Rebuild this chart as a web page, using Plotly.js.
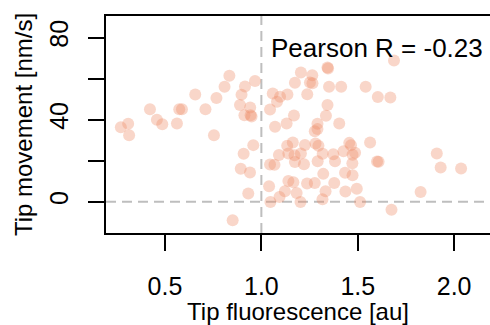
<!DOCTYPE html>
<html>
<head>
<meta charset="utf-8">
<script src="https://cdn.plot.ly/plotly-3.0.1.min.js"></script>
<style>html,body{margin:0;padding:0;overflow:hidden;background:#fff;}</style>
</head>
<body>
<div id="chart" style="width:490px;height:325px;"></div>
<script>
var tipFluorescence = [
  0.271,0.309,0.314,0.422,0.458,0.486,0.562,0.574,0.588,0.657,
  0.710,0.754,0.767,0.809,0.834,0.897,0.915,0.967,0.889,0.942,
  0.912,0.944,0.949,0.958,0.908,0.893,0.941,0.932,0.851,
  1.059,1.097,1.081,1.135,1.174,1.205,1.264,1.252,1.265,1.343,1.346,
  1.351,1.414,1.541,1.604,1.669,1.688,1.238,1.045,1.343,1.169,
  1.335,1.131,1.071,1.404,1.291,1.291,1.277,1.226,1.281,1.163,
  1.134,1.140,1.091,1.172,1.205,1.221,1.174,1.296,1.318,1.373,
  1.382,1.426,1.456,1.465,1.473,1.472,1.564,1.600,1.608,1.486,
  1.292,1.910,1.930,2.036,1.826,1.675,1.045,1.068,1.040,1.047,
  1.094,1.122,1.140,1.166,1.183,1.203,1.237,1.277,1.321,1.317,
  1.333,1.378,1.434,1.436,1.473,1.495,1.512
];
var tipMovement = [
  36.3,38.0,32.4,45.1,40.0,37.8,38.1,45.1,45.1,52.3,
  45.1,32.4,50.6,56.0,61.4,52.2,56.2,58.8,47.2,45.9,
  42.1,42.1,41.5,27.6,23.4,16.1,14.3,4.0,-9.0,
  52.7,51.2,48.7,52.3,58.0,63.0,61.6,58.1,57.7,65.4,64.9,
  56.0,56.0,56.0,51.0,50.8,68.8,52.4,45.0,47.1,42.0,
  41.9,38.1,36.5,38.1,38.0,35.4,34.4,27.7,28.4,28.9,
  27.3,23.5,22.8,22.7,23.5,18.3,19.4,27.3,23.4,23.2,
  19.8,24.6,28.7,27.6,22.9,18.8,28.9,19.6,19.5,23.9,
  19.8,23.5,16.7,16.2,4.8,-3.9,18.2,18.1,7.6,-0.1,
  2.3,5.1,10.1,9.5,4.3,-0.1,8.9,9.2,13.6,1.2,
  5.1,9.2,14.1,5.0,12.9,6.4,-0.1
];
var xTickVals = [0.5, 1.0, 1.5, 2.0];
var xTickText = ['0.5', '1.0', '1.5', '2.0'];
var yTickVals = [0, 20, 40, 60, 80];
var yTickText = ['0', '', '40', '', '80'];
var annotationText = 'Pearson R = -0.23';
var xTitle = 'Tip fluorescence [au]';
var yTitle = 'Tip movement [nm/s]';

var FONT = 'Liberation Sans, Arial, Helvetica, sans-serif';

var trace = {
  x: tipFluorescence,
  y: tipMovement,
  type: 'scatter',
  mode: 'markers',
  marker: {size: 12, color: 'rgba(238,140,105,0.36)', line: {width: 0}},
  hoverinfo: 'skip'
};

var layout = {
  width: 490, height: 325,
  margin: {l: 106, r: 0, t: 16, b: 92, pad: 0},
  paper_bgcolor: '#fff', plot_bgcolor: '#fff',
  showlegend: false,
  font: {family: FONT, color: '#000', size: 24},
  xaxis: {
    range: [0.194, 2.186],
    showgrid: false, zeroline: false,
    showline: true, linewidth: 2, linecolor: '#000', mirror: true,
    ticks: 'outside', ticklen: 16, tickwidth: 2, tickcolor: '#000',
    tickvals: xTickVals, ticktext: xTickText, ticklabelstandoff: 14,
    tickfont: {size: 25, family: FONT, color: '#000'},
    title: {text: xTitle, font: {size: 24, family: FONT, color: '#000'}, standoff: 1}
  },
  yaxis: {
    range: [-15.2, 90.5],
    showgrid: false, zeroline: false,
    showline: true, linewidth: 2, linecolor: '#000', mirror: false,
    ticks: 'outside', ticklen: 16, tickwidth: 2, tickcolor: '#000',
    tickvals: yTickVals, ticktext: yTickText, tickangle: -90, ticklabelstandoff: 10,
    tickfont: {size: 25, family: FONT, color: '#000'},
    title: {text: yTitle, font: {size: 24, family: FONT, color: '#000'}, standoff: 6}
  },
  shapes: [
    {type: 'line', xref: 'x', yref: 'paper', x0: 1, x1: 1, y0: 0, y1: 1,
     line: {color: 'rgb(190,190,190)', width: 2, dash: '10px,6px'}, layer: 'below'},
    {type: 'line', xref: 'paper', yref: 'y', x0: 0, x1: 1, y0: 0, y1: 0,
     line: {color: 'rgb(190,190,190)', width: 2, dash: '10px,6px'}, layer: 'below'}
  ],
  annotations: [
    {text: annotationText, xref: 'x', yref: 'y', x: 1.038, y: 75,
     xanchor: 'left', yanchor: 'middle', showarrow: false,
     font: {size: 26, family: FONT, color: '#000'}}
  ]
};

Plotly.newPlot('chart', [trace], layout, {displayModeBar: false, staticPlot: true});
</script>
</body>
</html>
